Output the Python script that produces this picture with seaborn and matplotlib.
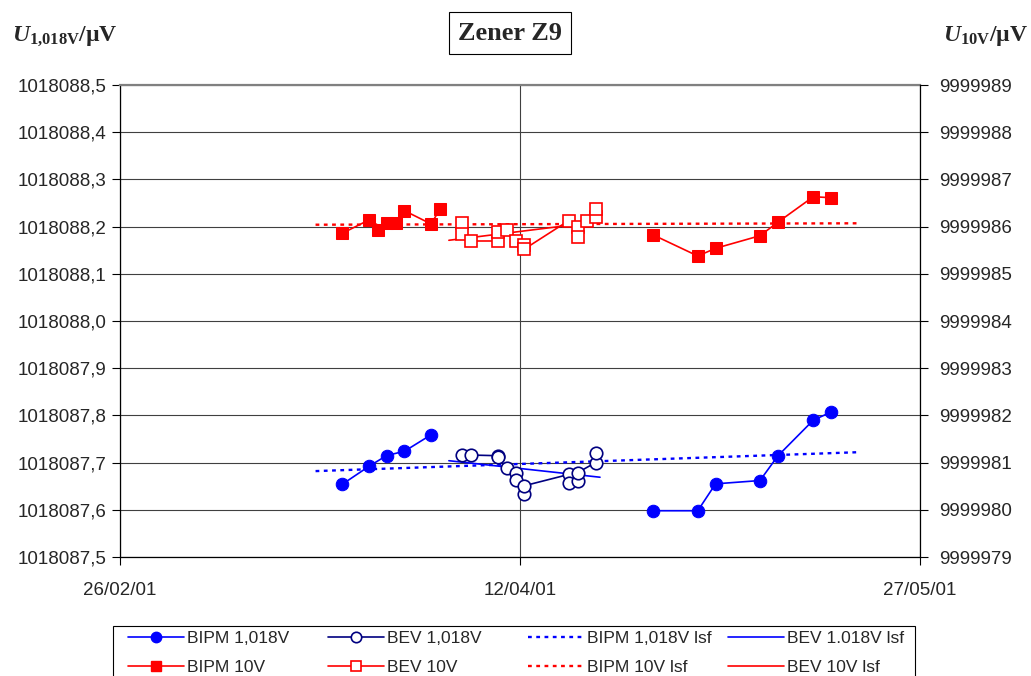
import numpy as np
import pandas as pd
import matplotlib
matplotlib.use("Agg")
import matplotlib.pyplot as plt
import matplotlib.dates as mdates
import seaborn as sns
from matplotlib.lines import Line2D
from matplotlib.patches import Rectangle
from matplotlib.ticker import FuncFormatter, FixedLocator

sns.set_style("white")
plt.rcParams['font.family'] = ['Liberation Sans', 'DejaVu Sans']
plt.rcParams['mathtext.fontset'] = 'custom'
plt.rcParams['mathtext.rm'] = 'Liberation Serif:bold'
plt.rcParams['mathtext.it'] = 'Liberation Serif:bold:italic'
plt.rcParams['mathtext.bf'] = 'Liberation Serif:bold'

# ---------------- data ----------------
bipm_dates = ["2001-03-23", "2001-03-26", "2001-03-28", "2001-03-30", "2001-04-02",
              "2001-04-27", "2001-05-02", "2001-05-04", "2001-05-09", "2001-05-11",
              "2001-05-15", "2001-05-17"]
bipm_run = [1, 1, 1, 1, 1, 2, 2, 2, 2, 2, 2, 2]
bipm_1018 = [1018087.654, 1018087.692, 1018087.715, 1018087.724, 1018087.759,
             1018087.598, 1018087.598, 1018087.655, 1018087.662, 1018087.714,
             1018087.790, 1018087.807]

bipm10_dates = ["2001-03-23", "2001-03-26", "2001-03-27", "2001-03-28", "2001-03-29",
                "2001-03-30", "2001-04-02", "2001-04-03", "2001-04-27", "2001-05-02",
                "2001-05-04", "2001-05-09", "2001-05-11", "2001-05-15", "2001-05-17"]
bipm10_run = [1, 1, 1, 1, 1, 1, 1, 1, 2, 2, 2, 2, 2, 2, 2]
bipm_10 = [9999985.858, 9999986.140, 9999985.928, 9999986.083, 9999986.083,
           9999986.337, 9999986.055, 9999986.373, 9999985.822, 9999985.377,
           9999985.540, 9999985.807, 9999986.091, 9999986.633, 9999986.612]

bev_dates = ["2001-04-05 12:00", "2001-04-06 12:00", "2001-04-09 12:00", "2001-04-09 12:00",
             "2001-04-10 12:00", "2001-04-11 12:00", "2001-04-11 12:00", "2001-04-12 12:00",
             "2001-04-12 12:00", "2001-04-17 12:00", "2001-04-17 12:00", "2001-04-18 12:00",
             "2001-04-18 12:00", "2001-04-20 12:00", "2001-04-20 12:00"]
bev_1018 = [1018087.7155, 1018087.716, 1018087.7146, 1018087.7112, 1018087.689,
            1018087.677, 1018087.663, 1018087.633, 1018087.651, 1018087.675,
            1018087.656, 1018087.660, 1018087.679, 1018087.700, 1018087.720]

bev10_dates = ["2001-04-05 12:00", "2001-04-05 12:00", "2001-04-06 12:00", "2001-04-09 12:00",
               "2001-04-09 12:00", "2001-04-10 12:00", "2001-04-11 12:00", "2001-04-12 12:00",
               "2001-04-12 12:00", "2001-04-17 12:00", "2001-04-18 12:00", "2001-04-18 12:00",
               "2001-04-19 12:00", "2001-04-20 12:00", "2001-04-20 12:00"]
bev_10 = [9999986.070, 9999985.837, 9999985.695, 9999985.695, 9999985.892,
          9999985.928, 9999985.695, 9999985.600, 9999985.525, 9999986.129,
          9999985.985, 9999985.786, 9999986.119, 9999986.203, 9999986.373]

# least-squares-fit lines (end points)
bipm_lsf_dates = ["2001-03-20", "2001-05-20"]
bipm_1018_lsf = [1018087.682, 1018087.722]
bipm_10_lsf = [9999986.040, 9999986.070]
bev_lsf_dates = ["2001-04-04", "2001-04-21"]
bev_1018_lsf = [1018087.704, 1018087.669]
bev_10_lsf = [9999985.710, 9999986.108]

x_ticks = ["2001-02-26", "2001-04-12", "2001-05-27"]
left_ticks = [1018087.5 + 0.1 * i for i in range(11)]
right_ticks = [9999979 + i for i in range(11)]

BLUE = "#0000FF"
NAVY = "#000080"
RED = "#FF0000"

# ---------------- figure ----------------
W, H = 1031, 676
fig = plt.figure(figsize=(W / 100, H / 100), dpi=100)
ax = fig.add_axes([120 / W, 1 - 557 / H, 800 / W, 472 / H])
ax2 = ax.twinx()

def dt(lst):
    return pd.to_datetime(pd.Series(lst))

line_kw = dict(sort=False, estimator=None, legend=False)
DOT = (0, (1.6, 1.9))

# 1,018 V on left axis
sns.lineplot(x=dt(bipm_lsf_dates), y=bipm_1018_lsf, ax=ax, color=BLUE, lw=1.7,
             linestyle=DOT, **line_kw)
sns.lineplot(x=dt(bev_lsf_dates), y=bev_1018_lsf, ax=ax, color=BLUE, lw=1.2, **line_kw)
sns.lineplot(x=dt(bipm_dates), y=bipm_1018, units=bipm_run, ax=ax, color=BLUE, lw=1.2,
             marker="o", markersize=9, markerfacecolor=BLUE, markeredgecolor=BLUE, **line_kw)
sns.lineplot(x=dt(bev_dates), y=bev_1018, ax=ax, color=NAVY, lw=1.2, marker="o",
             markersize=9, markerfacecolor="white", markeredgecolor=NAVY,
             markeredgewidth=1.2, **line_kw)

# 10 V on right axis
sns.lineplot(x=dt(bipm_lsf_dates), y=bipm_10_lsf, ax=ax2, color=RED, lw=1.7,
             linestyle=DOT, **line_kw)
sns.lineplot(x=dt(bev_lsf_dates), y=bev_10_lsf, ax=ax2, color=RED, lw=1.2, **line_kw)
sns.lineplot(x=dt(bipm10_dates), y=bipm_10, units=bipm10_run, ax=ax2, color=RED, lw=1.2,
             marker="s", markersize=9, markerfacecolor=RED, markeredgecolor=RED, **line_kw)
sns.lineplot(x=dt(bev10_dates), y=bev_10, ax=ax2, color=RED, lw=1.2, marker="s",
             markersize=9, markerfacecolor="white", markeredgecolor=RED,
             markeredgewidth=1.2, **line_kw)

# axes limits / ticks
xt = mdates.date2num(pd.to_datetime(x_ticks))
ax.set_xlim(xt[0], xt[-1])
ax.set_ylim(left_ticks[0], left_ticks[-1])
ax2.set_ylim(right_ticks[0], right_ticks[-1])
ax.xaxis.set_major_locator(FixedLocator(xt))
ax.xaxis.set_major_formatter(mdates.DateFormatter("%d/%m/%y"))
ax.yaxis.set_major_locator(FixedLocator(left_ticks))
ax.yaxis.set_major_formatter(FuncFormatter(lambda v, p: f"{v:.1f}".replace(".", ",")))
ax2.yaxis.set_major_locator(FixedLocator(right_ticks))
ax2.yaxis.set_major_formatter(FuncFormatter(lambda v, p: f"{v:.0f}"))
ax.set_xlabel("")
ax.set_ylabel("")
ax2.set_ylabel("")

ax.grid(True, color="#404040", lw=0.8)
ax.set_axisbelow(True)
ax2.grid(False)

ax.tick_params(axis="y", which="major", direction="out", length=6, width=0.8,
               color="black", pad=4, labelsize=13.5, left=True)
ax.tick_params(axis="x", which="major", direction="out", length=6, width=0.8,
               color="black", pad=12, labelsize=13.5, bottom=True)
ax2.tick_params(axis="y", which="major", direction="out", length=6, width=0.8,
                color="black", pad=8, labelsize=13.5, right=True)

for s in ["left", "bottom"]:
    ax.spines[s].set_color("black")
    ax.spines[s].set_linewidth(0.9)
ax.spines["top"].set_color("#808080")
ax.spines["top"].set_linewidth(1.6)
ax.spines["right"].set_visible(False)
for s in ["left", "bottom", "top"]:
    ax2.spines[s].set_visible(False)
ax2.spines["right"].set_color("black")
ax2.spines["right"].set_linewidth(0.9)

# titles / axis labels
fig.text(510 / W, 1 - 33 / H, "Zener Z9", ha="center", va="center", fontsize=19,
         family="Liberation Serif", fontweight="bold",
         bbox=dict(boxstyle="square,pad=0.35", fc="white", ec="black", lw=0.8))
fig.text(12 / W, 1 - 36 / H, r"$\mathit{U}_{\mathrm{1{,}018V}}\mathrm{/µV}$",
         ha="left", va="center", fontsize=17)
fig.text(1028 / W, 1 - 36 / H, r"$\mathit{U}_{\mathrm{10V}}\mathrm{/µV}$",
         ha="right", va="center", fontsize=17)

# legend (4 uniform columns like the original)
h = {
    "BIPM 1,018V": Line2D([], [], color=BLUE, lw=1.2, marker="o", ms=7.5, mfc=BLUE, mec=BLUE),
    "BEV 1,018V": Line2D([], [], color=NAVY, lw=1.2, marker="o", ms=7.5, mfc="white", mec=NAVY, mew=1.2),
    "BIPM 1,018V lsf": Line2D([], [], color=BLUE, lw=1.7, linestyle=DOT),
    "BEV 1.018V lsf": Line2D([], [], color=BLUE, lw=1.2),
    "BIPM 10V": Line2D([], [], color=RED, lw=1.2, marker="s", ms=7.5, mfc=RED, mec=RED),
    "BEV 10V": Line2D([], [], color=RED, lw=1.2, marker="s", ms=7.5, mfc="white", mec=RED, mew=1.2),
    "BIPM 10V lsf": Line2D([], [], color=RED, lw=1.7, linestyle=DOT),
    "BEV 10V lsf": Line2D([], [], color=RED, lw=1.2),
}
cols = [["BIPM 1,018V", "BIPM 10V"], ["BEV 1,018V", "BEV 10V"],
        ["BIPM 1,018V lsf", "BIPM 10V lsf"], ["BEV 1.018V lsf", "BEV 10V lsf"]]
for i, col in enumerate(cols):
    fig.legend(handles=[h[c] for c in col], labels=col, loc="center left",
               bbox_to_anchor=((128 + 200 * i) / W, 1 - 653 / H),
               frameon=False, fontsize=12.5, handlelength=3.2, handletextpad=0.2,
               borderpad=0, borderaxespad=0, labelspacing=0.78)
fig.patches.append(Rectangle((113 / W, 1 - 700 / H), (915 - 113) / W, (700 - 626) / H,
                             transform=fig.transFigure, fill=False, ec="black", lw=0.8))

fig.savefig("out.png", dpi=100)
